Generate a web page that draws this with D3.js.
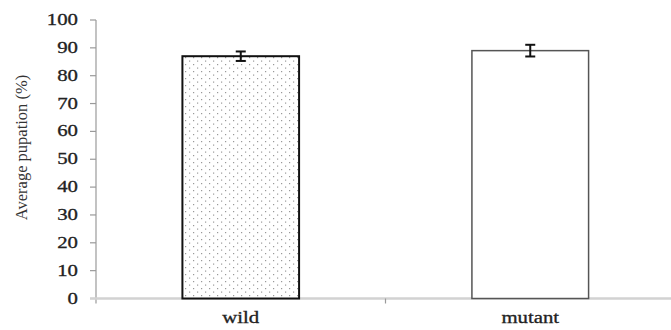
<!DOCTYPE html>
<html><head><meta charset="utf-8">
<script src="https://cdn.jsdelivr.net/npm/d3@7"></script>
<style>body{margin:0;background:#fff}svg{display:block}</style>
</head><body>
<script>
const categories = ["wild", "mutant"];
const values = [87, 89];
const errors = [1.7, 2.1];
const yTicks = [0,10,20,30,40,50,60,70,80,90,100];
const yLabel = "Average pupation (%)";

const W = 671, H = 330;
const svg = d3.select("body").append("svg").attr("width", W).attr("height", H);
const defs = svg.append("defs");
const pat = defs.append("pattern").attr("id","dots").attr("patternUnits","userSpaceOnUse")
  .attr("width",8).attr("height",7);
pat.append("rect").attr("width",8).attr("height",7).attr("fill","#fff");
pat.append("rect").attr("x",1).attr("y",1).attr("width",1.2).attr("height",1.2).attr("fill","#999");
pat.append("rect").attr("x",5).attr("y",4.5).attr("width",1.2).attr("height",1.2).attr("fill","#999");

const x = d3.scaleBand().domain(categories).range([96, 675]).padding(0);
const y = d3.scaleLinear().domain([0, 100]).range([298.5, 20]);
const font = "'Liberation Serif','Times New Roman',serif";

// y axis
svg.append("line").attr("x1",96).attr("x2",96).attr("y1",y(100)).attr("y2",y(0)+5)
  .attr("stroke","#9a9a9a").attr("stroke-width",1.2);
yTicks.forEach(t => {
  svg.append("line").attr("x1",90).attr("x2",96).attr("y1",y(t)).attr("y2",y(t))
    .attr("stroke","#9a9a9a").attr("stroke-width",1.2);
  svg.append("text").attr("transform",`translate(78,${y(t)+5}) scale(1.3,1)`)
    .attr("text-anchor","end").attr("font-family",font).attr("font-size",16)
    .attr("fill","#222").attr("stroke","#222").attr("stroke-width",0.3).text(t);
});

// x axis
svg.append("line").attr("x1",90).attr("x2",W).attr("y1",y(0)).attr("y2",y(0))
  .attr("stroke","#d2d2d2").attr("stroke-width",2.5);
svg.append("line").attr("x1",x("mutant")).attr("x2",x("mutant")).attr("y1",y(0)).attr("y2",y(0)+5)
  .attr("stroke","#9a9a9a").attr("stroke-width",1.2);

const bwFrac = 0.403;
categories.forEach((c, i) => {
  const bw = x.bandwidth()*bwFrac;
  const cx = x(c) + x.bandwidth()/2;
  const bx = cx - bw/2;
  svg.append("rect").attr("x",bx).attr("y",y(values[i])).attr("width",bw)
    .attr("height",y(0)-y(values[i]))
    .attr("fill", i===0 ? "url(#dots)" : "#fff")
    .attr("stroke", i===0 ? "#111" : "#555")
    .attr("stroke-width", i===0 ? 2 : 1.5);
  const e = svg.append("g").attr("stroke","#111").attr("stroke-width",2);
  e.append("line").attr("x1",cx).attr("x2",cx).attr("y1",y(values[i]+errors[i])).attr("y2",y(values[i]-errors[i]));
  e.append("line").attr("x1",cx-5).attr("x2",cx+5).attr("y1",y(values[i]+errors[i])).attr("y2",y(values[i]+errors[i]));
  e.append("line").attr("x1",cx-5).attr("x2",cx+5).attr("y1",y(values[i]-errors[i])).attr("y2",y(values[i]-errors[i]));
  svg.append("text").attr("transform",`translate(${cx},323) scale(1.3,1)`)
    .attr("text-anchor","middle").attr("font-family",font).attr("font-size",16)
    .attr("fill","#222").attr("stroke","#222").attr("stroke-width",0.3).text(c);
});

svg.append("text").attr("transform",`translate(27,${(72+223)/2}) rotate(-90)`)
  .attr("text-anchor","middle").attr("font-family",font).attr("font-size",16.5)
  .attr("fill","#333").text(yLabel);
</script>
</body></html>
